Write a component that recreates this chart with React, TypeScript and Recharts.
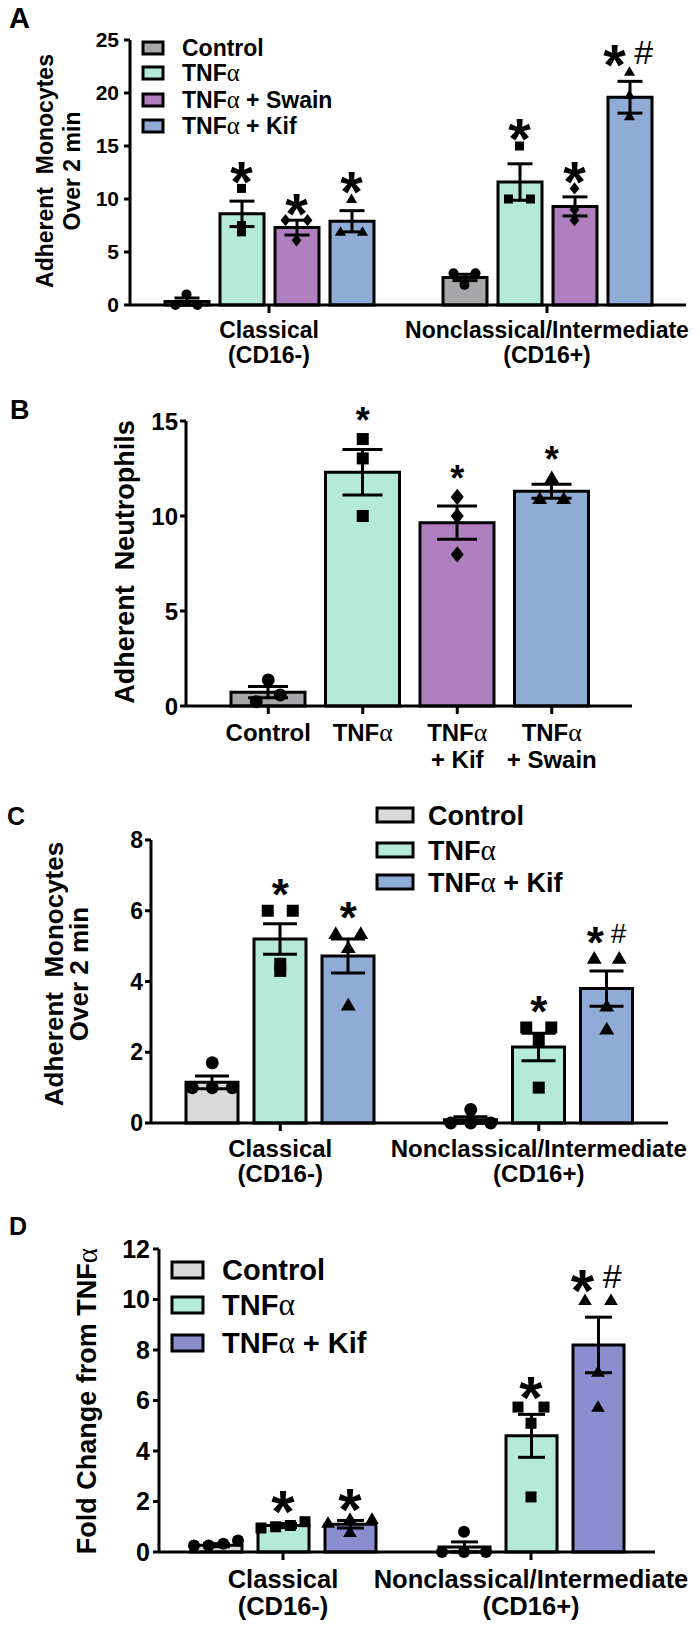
import React from 'react';
import { ComposedChart, Bar, ErrorBar, Scatter, XAxis, YAxis, Cell } from 'recharts';

const FONT = '"Liberation Sans", Arial, Helvetica, sans-serif';
const GREEK = '"Liberation Serif", "DejaVu Serif", serif';

const GRAY = '#a7a7a9';
const LIGHT_GRAY = '#dadada';
const MINT = '#b4ead7';
const PURPLE = '#b07fc0';
const BLUE = '#8eacd6';
const PERIWINKLE = '#8a8ecf';

// ---- A: adherent monocytes, 4 treatments
const aGroups = ['Classical', 'Nonclassical/Intermediate'];
const aGroupSub = ['(CD16-)', '(CD16+)'];
const aNames = ['Control', 'TNFα', 'TNFα + Swain', 'TNFα + Kif'];
const aControl = [0.33, 2.6];
const aControlSem = [0.33, 0.3];
const aControlPts = [[1.0, 0, 0], [3.0, 3.0, 1.9]];
const aTnf = [8.6, 11.6];
const aTnfSem = [1.2, 1.72];
const aTnfPts = [[11.0, 7.5, 6.9], [15.0, 10.0, 10.0]];
const aSwain = [7.3, 9.3];
const aSwainSem = [0.7, 0.9];
const aSwainPts = [[8.0, 8.0, 6.1], [11.0, 9.0, 8.0]];
const aKif = [7.9, 19.6];
const aKifSem = [1.0, 1.5];
const aKifPts = [[10.0, 6.9, 6.9], [22.0, 19.8, 17.8]];
const aSig = [['', ''], ['*', '*'], ['*', '*'], ['*', '*#']];
const aTicks = [0, 5, 10, 15, 20, 25];

// ---- B: adherent neutrophils
const bGroups = ['Control', 'TNFα', 'TNFα + Kif', 'TNFα + Swain'];
const bLine1 = ['Control', 'TNFα', 'TNFα', 'TNFα'];
const bLine2 = ['', '', '+ Kif', '+ Swain'];
const bMean = [0.73, 12.3, 9.65, 11.3];
const bSem = [0.3, 1.2, 0.88, 0.37];
const bPts = [[1.37, 0.58, 0.23], [14.05, 13.03, 10.0], [11.0, 10.0, 7.98], [12.0, 10.9, 10.9]];
const bSig = ['', '*', '*', '*'];
const bTicks = [0, 5, 10, 15];

// ---- C: adherent monocytes, 3 treatments
const cGroups = ['Classical', 'Nonclassical/Intermediate'];
const cGroupSub = ['(CD16-)', '(CD16+)'];
const cNames = ['Control', 'TNFα', 'TNFα + Kif'];
const cControl = [1.15, 0.09];
const cControlSem = [0.18, 0.09];
const cControlPts = [[1.7, 1.0, 1.0, 1.0], [0.38, 0, 0, 0]];
const cTnf = [5.2, 2.15];
const cTnfSem = [0.43, 0.39];
const cTnfPts = [[6.0, 6.0, 4.5, 4.3], [2.7, 2.7, 2.35, 1.0]];
const cKif = [4.72, 3.8];
const cKifSem = [0.48, 0.5];
const cKifPts = [[5.35, 5.35, 4.95, 3.33], [4.65, 4.65, 3.3, 2.65]];
const cSig = [['', ''], ['*', '*'], ['*', '*#']];
const cTicks = [0, 2, 4, 6, 8];

// ---- D: fold change from TNFα
const dGroups = ['Classical', 'Nonclassical/Intermediate'];
const dGroupSub = ['(CD16-)', '(CD16+)'];
const dNames = ['Control', 'TNFα', 'TNFα + Kif'];
const dControl = [0.27, 0.2];
const dControlSem = [0.06, 0.2];
const dControlPts = [[0.33, 0.46, 0.26, 0.26], [0.8, 0, 0, 0]];
const dTnf = [1.05, 4.6];
const dTnfSem = [0.08, 0.85];
const dTnfPts = [[1.2, 1.05, 1.0, 0.95], [5.74, 5.74, 5.1, 2.18]];
const dKif = [1.1, 8.2];
const dKifSem = [0.15, 1.1];
const dKifPts = [[1.3, 1.3, 1.15, 0.78], [9.97, 9.97, 7.13, 5.74]];
const dSig = [['', ''], ['*', '*'], ['*', '*#']];
const dTicks = [0, 2, 4, 6, 8, 10, 12];

type Series = {
  name: string;
  mean: number[];
  sem: number[];
  pts: number[][];
  sig: string[];
  fill: string[];
  marker: string[];
};

type PanelCfg = {
  top: number;
  height: number;
  letter: string;
  letterX: number;
  letterY: number;
  letterSize: number;
  groups: string[];
  line1: string[];
  line2: string[];
  series: Series[];
  yMax: number;
  yTicks: number[];
  plotTop: number;
  plotBottom: number;
  axisX: number;
  axisEnd: number;
  padL: number;
  padR: number;
  barSize: number;
  barGap: number;
  tickFont: number;
  yTickMargin: number;
  labelFont: number;
  labelOff: [number, number];
  capHalf: number;
  markerSize: number;
  clusterThr: number;
  stepMax: number;
  spanMax: number;
  starFs: number;
  hashFs: number;
  sigGap: number;
  titleLines: string[];
  titleX: number[];
  titleY: number;
  titleFont: number;
  legend?: { x: number; w: number; h: number; rows: number[]; textX: number; font: number };
};

const same = (v: string, n: number) => Array(n).fill(v);

// spread points that would overlap, lowest value leftmost
function spread(vals: number[], thr: number, stepMax: number, spanMax: number) {
  const order = vals.map((v, i) => ({ v, i })).sort((a, b) => a.v - b.v);
  const dx = new Array(vals.length).fill(0);
  let start = 0;
  for (let k = 1; k <= order.length; k++) {
    if (k === order.length || order[k].v - order[k - 1].v >= thr) {
      const n = k - start;
      const step = n > 1 ? Math.min(stepMax, spanMax / (n - 1)) : 0;
      for (let j = start; j < k; j++) dx[order[j].i] = (j - start - (n - 1) / 2) * step;
      start = k;
    }
  }
  return dx;
}

function withAlpha(text: string) {
  const parts = text.split('α');
  const out: React.ReactNode[] = [];
  parts.forEach((p, i) => {
    if (p) out.push(<tspan key={`t${i}`}>{p}</tspan>);
    if (i < parts.length - 1)
      out.push(
        <tspan key={`a${i}`} fontFamily={GREEK} fontWeight={400} fontSize="1.08em">
          α
        </tspan>
      );
  });
  return out;
}

function Marker({ kind, cx, cy, s }: { kind: string; cx: number; cy: number; s: number }) {
  if (kind === 'circle') return <circle cx={cx} cy={cy} r={s / 2 + 0.5} fill="#000" />;
  if (kind === 'square') return <rect x={cx - s / 2} y={cy - s / 2} width={s} height={s} fill="#000" />;
  if (kind === 'diamond') {
    const r = s * 0.68;
    return <polygon points={`${cx},${cy - r} ${cx + r * 0.8},${cy} ${cx},${cy + r} ${cx - r * 0.8},${cy}`} fill="#000" />;
  }
  const r = s * 0.62;
  return <polygon points={`${cx},${cy - r} ${cx + r},${cy + r * 0.7} ${cx - r},${cy + r * 0.7}`} fill="#000" />;
}

const Panel: React.FC<{ cfg: PanelCfg }> = ({ cfg }) => {
  const n = cfg.series.length;
  const step = cfg.barSize + cfg.barGap;
  const rows = cfg.groups.map((g, gi) => {
    const r: Record<string, any> = { group: g };
    cfg.series.forEach((s, si) => {
      r[`m${si}`] = s.mean[gi];
      r[`e${si}`] = s.sem[gi];
    });
    return r;
  });
  const pointSets = cfg.series.map((s, si) => {
    const ox = (si - (n - 1) / 2) * step;
    const out: any[] = [];
    s.pts.forEach((vals, gi) => {
      const dx = spread(vals, cfg.clusterThr, cfg.stepMax, cfg.spanMax);
      vals.forEach((v, k) => out.push({ group: cfg.groups[gi], v, ox: ox + dx[k], kind: s.marker[gi] }));
    });
    return out;
  });
  const sigSets = cfg.series.map((s, si) => {
    const ox = (si - (n - 1) / 2) * step;
    return cfg.groups.map((g, gi) => ({
      group: g,
      v: Math.max(...s.pts[gi], s.mean[gi] + s.sem[gi]),
      ox,
      text: s.sig[gi],
    }));
  });

  const Y_W = 70;
  const X_H = 70;
  const margin = {
    top: cfg.plotTop - cfg.top,
    left: cfg.axisX - Y_W,
    right: 700 - cfg.axisEnd,
    bottom: cfg.height - (cfg.plotBottom - cfg.top) - X_H,
  };

  const XTick = (props: any) => {
    const { x, y, payload } = props;
    const i = payload.index;
    const base = y - 8;
    return (
      <text x={x} textAnchor="middle" fontFamily={FONT} fontWeight={700} fontSize={cfg.labelFont} fill="#000">
        <tspan x={x} y={base + cfg.labelOff[0]}>{withAlpha(cfg.line1[i])}</tspan>
        {cfg.line2[i] ? <tspan x={x} y={base + cfg.labelOff[1]}>{withAlpha(cfg.line2[i])}</tspan> : null}
      </text>
    );
  };

  const PointShape = (p: any) => {
    const { cx, cy, payload } = p;
    return <Marker kind={payload.kind} cx={cx + payload.ox} cy={cy} s={cfg.markerSize} />;
  };

  const SigShape = (p: any) => {
    const { cx, cy, payload } = p;
    if (!payload.text) return <g />;
    const x = cx + payload.ox;
    const c = cy - cfg.sigGap;
    const hash = payload.text.includes('#');
    return (
      <g fontFamily={FONT} fill="#000">
        <text x={hash ? x - cfg.starFs * 0.26 : x} y={c + cfg.starFs * 0.575} textAnchor="middle" fontSize={cfg.starFs} fontWeight={700}>
          *
        </text>
        {hash ? (
          <text x={x + cfg.hashFs * 0.42} y={c + cfg.hashFs * 0.36} textAnchor="middle" fontSize={cfg.hashFs} fontWeight={400}>
            #
          </text>
        ) : null}
      </g>
    );
  };

  const axisStyle = { stroke: '#000', strokeWidth: 3 };

  return (
    <div style={{ position: 'absolute', left: 0, top: cfg.top, width: 700, height: cfg.height }}>
      <ComposedChart width={700} height={cfg.height} data={rows} margin={margin} barSize={cfg.barSize} barGap={cfg.barGap}>
        <XAxis
          dataKey="group"
          type="category"
          allowDuplicatedCategory={false}
          interval={0}
          height={X_H}
          padding={{ left: cfg.padL, right: cfg.padR }}
          tickSize={8}
          tickMargin={0}
          axisLine={axisStyle}
          tickLine={axisStyle}
          tick={<XTick />}
        />
        <YAxis
          type="number"
          width={Y_W}
          domain={[0, cfg.yMax]}
          ticks={cfg.yTicks}
          interval={0}
          tickSize={6}
          tickMargin={cfg.yTickMargin}
          axisLine={axisStyle}
          tickLine={axisStyle}
          tick={{ fill: '#000', fontSize: cfg.tickFont, fontWeight: 700, fontFamily: FONT }}
        />
        {cfg.series.map((s, si) => (
          <Bar key={`bar${si}`} dataKey={`m${si}`} stroke="#000" strokeWidth={3} isAnimationActive={false}>
            {cfg.groups.map((g, gi) => (
              <Cell key={g} fill={s.fill[gi]} />
            ))}
            <ErrorBar dataKey={`e${si}`} width={cfg.capHalf} stroke="#000" strokeWidth={3} direction="y" isAnimationActive={false} />
          </Bar>
        ))}
        {pointSets.map((d, si) => (
          <Scatter key={`pts${si}`} data={d} dataKey="v" shape={PointShape} legendType="none" isAnimationActive={false} />
        ))}
        {sigSets.map((d, si) => (
          <Scatter key={`sig${si}`} data={d} dataKey="v" shape={SigShape} legendType="none" isAnimationActive={false} />
        ))}
      </ComposedChart>
      <svg
        width={700}
        height={cfg.height}
        style={{ position: 'absolute', left: 0, top: 0, pointerEvents: 'none' }}
        fontFamily={FONT}
        fontWeight={700}
      >
        <text x={cfg.letterX} y={cfg.letterY - cfg.top} fontSize={cfg.letterSize} fill="#000">
          {cfg.letter}
        </text>
        {cfg.titleLines.map((t, i) => (
          <text
            key={t}
            x={cfg.titleX[i]}
            y={cfg.titleY - cfg.top}
            transform={`rotate(-90, ${cfg.titleX[i]}, ${cfg.titleY - cfg.top})`}
            textAnchor="middle"
            dominantBaseline="central"
            fontSize={cfg.titleFont}
            fill="#000"
            style={{ whiteSpace: 'pre' }}
          >
            {withAlpha(t)}
          </text>
        ))}
        {cfg.legend
          ? cfg.series.map((s, si) => {
              const L = cfg.legend!;
              const cy = L.rows[si] - cfg.top;
              return (
                <g key={s.name}>
                  <rect x={L.x} y={cy - L.h / 2} width={L.w} height={L.h} fill={s.fill[0]} stroke="#000" strokeWidth={3} />
                  <text x={L.textX} y={cy + L.font * 0.36} fontSize={L.font} fill="#000">
                    {withAlpha(s.name)}
                  </text>
                </g>
              );
            })
          : null}
      </svg>
    </div>
  );
};

const panelA: PanelCfg = {
  top: 0,
  height: 385,
  letter: 'A',
  letterX: 9,
  letterY: 28,
  letterSize: 29,
  groups: aGroups,
  line1: aGroups,
  line2: aGroupSub,
  series: [
    { name: aNames[0], mean: aControl, sem: aControlSem, pts: aControlPts, sig: aSig[0], fill: same(GRAY, 2), marker: same('circle', 2) },
    { name: aNames[1], mean: aTnf, sem: aTnfSem, pts: aTnfPts, sig: aSig[1], fill: same(MINT, 2), marker: same('square', 2) },
    { name: aNames[2], mean: aSwain, sem: aSwainSem, pts: aSwainPts, sig: aSig[2], fill: same(PURPLE, 2), marker: same('diamond', 2) },
    { name: aNames[3], mean: aKif, sem: aKifSem, pts: aKifPts, sig: aSig[3], fill: same(BLUE, 2), marker: same('triangle', 2) },
  ],
  yMax: 25,
  yTicks: aTicks,
  plotTop: 40,
  plotBottom: 305,
  axisX: 130,
  axisEnd: 686,
  padL: 0,
  padR: 0,
  barSize: 44,
  barGap: 11,
  tickFont: 21,
  yTickMargin: 5,
  labelFont: 23,
  labelOff: [33, 58],
  capHalf: 12.5,
  markerSize: 9,
  clusterThr: 0.5,
  stepMax: 22,
  spanMax: 40,
  starFs: 58,
  hashFs: 34,
  sigGap: 20,
  titleLines: ['Adherent  Monocytes', 'Over 2 min'],
  titleX: [45, 72],
  titleY: 171,
  titleFont: 23,
  legend: { x: 143, w: 20, h: 12, rows: [48, 73, 100, 126], textX: 182, font: 23 },
};

const panelB: PanelCfg = {
  top: 385,
  height: 405,
  letter: 'B',
  letterX: 10,
  letterY: 419,
  letterSize: 27,
  groups: bGroups,
  line1: bLine1,
  line2: bLine2,
  series: [
    {
      name: 'Neutrophils',
      mean: bMean,
      sem: bSem,
      pts: bPts,
      sig: bSig,
      fill: [GRAY, MINT, PURPLE, BLUE],
      marker: ['circle', 'square', 'diamond', 'triangle'],
    },
  ],
  yMax: 15,
  yTicks: bTicks,
  plotTop: 421,
  plotBottom: 706,
  axisX: 186,
  axisEnd: 632,
  padL: 35,
  padR: 33,
  barSize: 74,
  barGap: 0,
  tickFont: 24,
  yTickMargin: 2,
  labelFont: 24,
  labelOff: [35, 62],
  capHalf: 20,
  markerSize: 12,
  clusterThr: 0.4,
  stepMax: 24,
  spanMax: 50,
  starFs: 36,
  hashFs: 24,
  sigGap: 27,
  titleLines: ['Adherent  Neutrophils'],
  titleX: [125],
  titleY: 562,
  titleFont: 27,
};

const panelC: PanelCfg = {
  top: 790,
  height: 410,
  letter: 'C',
  letterX: 7,
  letterY: 825,
  letterSize: 25,
  groups: cGroups,
  line1: cGroups,
  line2: cGroupSub,
  series: [
    { name: cNames[0], mean: cControl, sem: cControlSem, pts: cControlPts, sig: cSig[0], fill: same(LIGHT_GRAY, 2), marker: same('circle', 2) },
    { name: cNames[1], mean: cTnf, sem: cTnfSem, pts: cTnfPts, sig: cSig[1], fill: same(MINT, 2), marker: same('square', 2) },
    { name: cNames[2], mean: cKif, sem: cKifSem, pts: cKifPts, sig: cSig[2], fill: same(BLUE, 2), marker: same('triangle', 2) },
  ],
  yMax: 8,
  yTicks: cTicks,
  plotTop: 840,
  plotBottom: 1123,
  axisX: 151,
  axisEnd: 668,
  padL: 0,
  padR: 0,
  barSize: 52,
  barGap: 16,
  tickFont: 23,
  yTickMargin: 2,
  labelFont: 24,
  labelOff: [34, 59],
  capHalf: 17,
  markerSize: 12,
  clusterThr: 0.2,
  stepMax: 25,
  spanMax: 40,
  starFs: 44,
  hashFs: 28,
  sigGap: 26,
  titleLines: ['Adherent  Monocytes', 'Over 2 min'],
  titleX: [54, 79],
  titleY: 974,
  titleFont: 26,
  legend: { x: 377, w: 36, h: 14, rows: [815, 850, 882], textX: 428, font: 27 },
};

const panelD: PanelCfg = {
  top: 1200,
  height: 425,
  letter: 'D',
  letterX: 9,
  letterY: 1235,
  letterSize: 25,
  groups: dGroups,
  line1: dGroups,
  line2: dGroupSub,
  series: [
    { name: dNames[0], mean: dControl, sem: dControlSem, pts: dControlPts, sig: dSig[0], fill: same(LIGHT_GRAY, 2), marker: same('circle', 2) },
    { name: dNames[1], mean: dTnf, sem: dTnfSem, pts: dTnfPts, sig: dSig[1], fill: same(MINT, 2), marker: same('square', 2) },
    { name: dNames[2], mean: dKif, sem: dKifSem, pts: dKifPts, sig: dSig[2], fill: same(PERIWINKLE, 2), marker: same('triangle', 2) },
  ],
  yMax: 12,
  yTicks: dTicks,
  plotTop: 1249,
  plotBottom: 1552,
  axisX: 159,
  axisEnd: 655,
  padL: 0,
  padR: 0,
  barSize: 51,
  barGap: 16,
  tickFont: 25,
  yTickMargin: 3,
  labelFont: 25.5,
  labelOff: [36, 63],
  capHalf: 13.5,
  markerSize: 11,
  clusterThr: 0.3,
  stepMax: 26,
  spanMax: 44,
  starFs: 60,
  hashFs: 34,
  sigGap: 24,
  titleLines: ['Fold Change from TNFα'],
  titleX: [87],
  titleY: 1401,
  titleFont: 27,
  legend: { x: 172, w: 31, h: 16, rows: [1270, 1305, 1343], textX: 222, font: 29 },
};

const App: React.FC = () => (
  <div style={{ position: 'absolute', left: 0, top: 0, width: 700, height: 1625, background: '#fff', fontFamily: FONT }}>
    <Panel cfg={panelA} />
    <Panel cfg={panelB} />
    <Panel cfg={panelC} />
    <Panel cfg={panelD} />
  </div>
);

export default App;
